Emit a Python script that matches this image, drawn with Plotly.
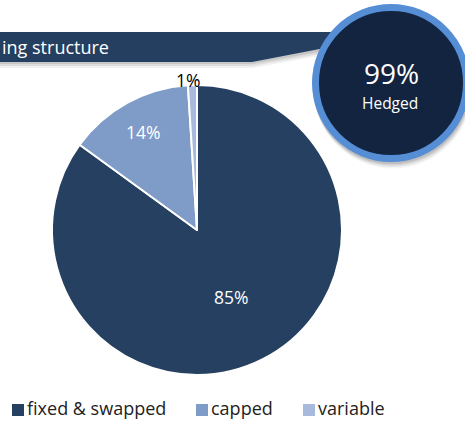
import math
import plotly.graph_objects as go

# Hedging structure of the debt portfolio
categories = ["fixed & swapped", "capped", "variable"]
shares = [85, 14, 1]
hedged_share = 99
banner_text = "ing structure"

colors = ["#254061", "#7F9CC8", "#A8BADB"]
label_colors = ["white", "white", "black"]

FONT = "Open Sans, Lato, sans-serif"
W, H = 465, 421
cx, cy, r = 197, 230, 145  # pie centre / radius in pixels

fig = go.Figure()

fig.add_trace(go.Pie(
    labels=categories,
    values=shares,
    sort=False,
    direction="clockwise",
    rotation=0,
    marker=dict(colors=colors, line=dict(color="white", width=2)),
    textinfo="none",
    hoverinfo="label+percent",
    showlegend=False,
    domain=dict(x=[(cx - r) / W, (cx + r) / W],
                y=[(H - cy - r) / H, (H - cy + r) / H]),
))

# Slice labels placed at each slice's mid-angle
total = sum(shares)
label_radius = [0.52, 0.77, 1.02]
start = 0.0
annotations = []
for val, col, rr in zip(shares, label_colors, label_radius):
    frac = val / total
    mid = (start + frac / 2) * 2 * math.pi
    start += frac
    lx = cx + rr * r * math.sin(mid) - (4 if rr > 1 else 0)
    ly = cy - rr * r * math.cos(mid) - (2 if rr > 1 else 0)
    annotations.append(dict(
        x=lx, y=ly, xref="x", yref="y", text=f"{val}%", showarrow=False,
        font=dict(family=FONT, size=17.5, color=col),
    ))

shapes = []

# Banner shadow (soft, a few layers)
for i, a in enumerate([0.10, 0.08, 0.06]):
    off = 2 + i * 2
    shapes.append(dict(
        type="path", xref="x", yref="y", layer="below",
        path=f"M -5 {33 + off} L 335 {33 + off} L 330 {48 + off} L 252 {62 + off} L -5 {62 + off} Z",
        fillcolor=f"rgba(0,0,0,{a})", line=dict(width=0),
    ))

# Title banner with tapered end
shapes.append(dict(
    type="path", xref="x", yref="y", layer="below",
    path="M -5 32 L 335 32 L 330 47 L 252 62 L -5 62 Z",
    fillcolor="#243F60", line=dict(width=0),
))

# Circle shadow
for i, a in enumerate([0.10, 0.08, 0.06, 0.04]):
    off = 2 + i * 1.5
    shapes.append(dict(
        type="circle", xref="x", yref="y", layer="below",
        x0=312 + off * 0.3, x1=470 + off * 0.3, y0=4 + off, y1=162 + off,
        fillcolor=f"rgba(0,0,0,{a})", line=dict(width=0),
    ))

# Hedged badge
shapes.append(dict(
    type="circle", xref="x", yref="y", layer="below",
    x0=315.5, x1=466.5, y0=7.5, y1=158.5,
    fillcolor="#12243F", line=dict(color="#558ED5", width=7),
))

annotations.append(dict(
    x=0, y=47, xref="x", yref="y", xanchor="left", yanchor="middle",
    text=banner_text, showarrow=False,
    font=dict(family=FONT, size=18, color="white"),
))
annotations.append(dict(
    x=391, y=73, xref="x", yref="y", text=f"{hedged_share}%", showarrow=False,
    font=dict(family=FONT, size=28, color="white"),
))
annotations.append(dict(
    x=390, y=103, xref="x", yref="y", text="Hedged", showarrow=False,
    font=dict(family=FONT, size=15.5, color="white"),
))

# Legend row
legend_x = [12, 196, 303]
for name, col, lx in zip(categories, colors, legend_x):
    shapes.append(dict(
        type="rect", xref="x", yref="y", layer="above",
        x0=lx, x1=lx + 12, y0=404, y1=416,
        fillcolor=col, line=dict(width=0),
    ))
    annotations.append(dict(
        x=lx + 14, y=407.5, xref="x", yref="y", xanchor="left", yanchor="middle",
        text=name, showarrow=False, borderpad=0,
        font=dict(family=FONT, size=18, color="#222222"),
    ))

fig.update_layout(
    width=W, height=H,
    margin=dict(l=0, r=0, t=0, b=0),
    paper_bgcolor="white", plot_bgcolor="rgba(0,0,0,0)",
    xaxis=dict(range=[0, W], visible=False, fixedrange=True),
    yaxis=dict(range=[H, 0], visible=False, fixedrange=True),
    shapes=shapes,
    annotations=annotations,
)

fig.write_html("out.html")
